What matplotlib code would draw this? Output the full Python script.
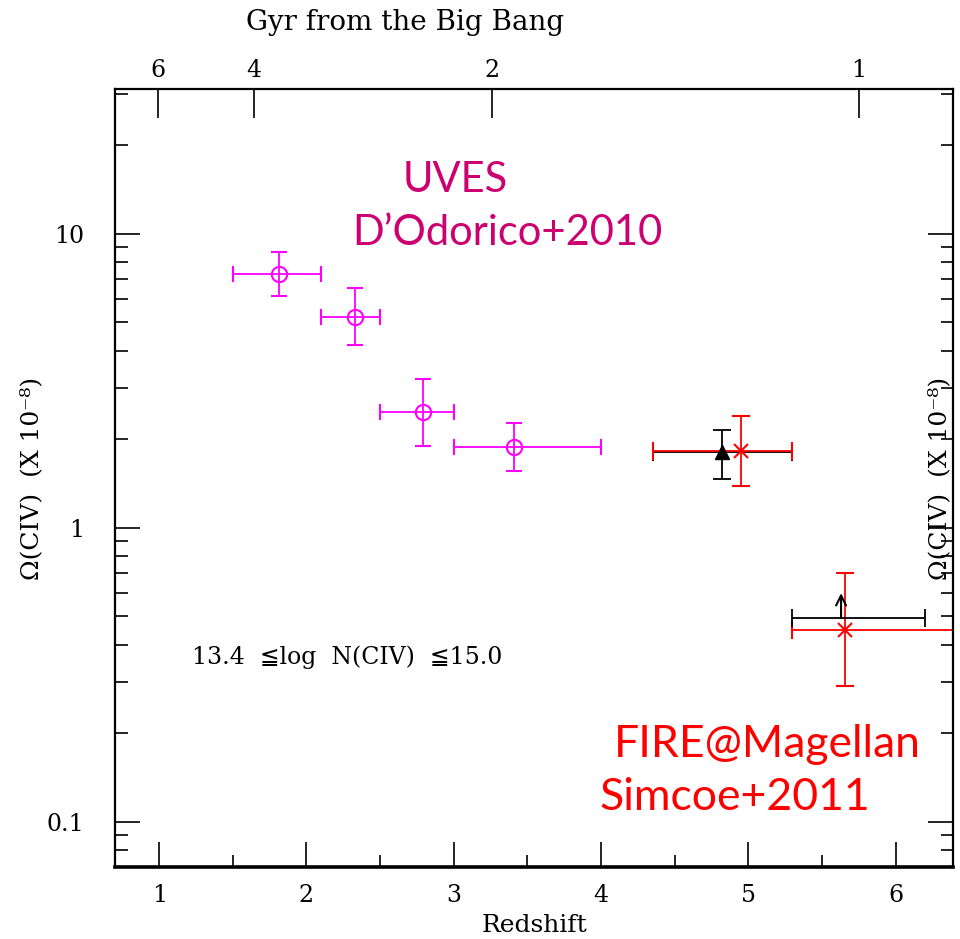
import matplotlib
matplotlib.use("Agg")
import matplotlib.pyplot as plt
from matplotlib.ticker import LogLocator, FixedLocator, NullFormatter, NullLocator

# ---------------- data ----------------
# UVES, D'Odorico+2010
uves_z = [1.815, 2.33, 2.79, 3.41]
uves_zlo = [1.50, 2.10, 2.50, 3.00]
uves_zhi = [2.10, 2.50, 3.00, 4.00]
uves_om = [7.3, 5.2, 2.48, 1.88]
uves_omlo = [6.15, 4.18, 1.90, 1.56]
uves_omhi = [8.7, 6.57, 3.22, 2.28]

# FIRE, Simcoe+2011 (red)
fire_z = [4.95, 5.66]
fire_zlo = [4.35, 5.30]
fire_zhi = [5.30, 6.60]
fire_om = [1.82, 0.45]
fire_omlo = [1.39, 0.29]
fire_omhi = [2.40, 0.70]

# black triangle point
tri_z, tri_zlo, tri_zhi = 4.82, 4.35, 5.30
tri_om, tri_omlo, tri_omhi = 1.81, 1.47, 2.16

# black lower limit
lim_z, lim_zlo, lim_zhi = 5.63, 5.30, 6.20
lim_om, lim_arrow_top = 0.494, 0.60

# top axis: age of the universe (Gyr) vs redshift
age_labels = ["6", "4", "2", "1"]
age_z = [0.99, 1.645, 3.26, 5.75]

serif = ["DejaVu Serif", "DejaVu Sans"]
sans = ["Lato", "DejaVu Sans"]
magenta = "#ff00ff"
pink = "#cc0070"

fig = plt.figure(figsize=(9.6, 9.39), dpi=100)
ax = fig.add_axes([0.1198, 0.0767, 0.8729, 0.8285])
ax.set_yscale("log")
ax.set_xlim(0.70, 6.39)
ax.set_ylim(0.0703, 31.1)

def err(v, lo, hi):
    return [[a - b for a, b in zip(v, lo)], [c - a for a, c in zip(v, hi)]]

ax.errorbar(uves_z, uves_om, xerr=err(uves_z, uves_zlo, uves_zhi),
            yerr=err(uves_om, uves_omlo, uves_omhi), fmt="o", ms=11,
            mfc="none", mec=magenta, mew=1.5, ecolor=magenta, elinewidth=1.3,
            capsize=6, capthick=1.3)

ax.errorbar([tri_z], [tri_om], xerr=[[tri_z - tri_zlo], [tri_zhi - tri_z]],
            yerr=[[tri_om - tri_omlo], [tri_omhi - tri_om]], fmt="^", ms=10,
            color="black", elinewidth=1.3, capsize=6.5, capthick=1.3)

ax.errorbar(fire_z, fire_om, xerr=err(fire_z, fire_zlo, fire_zhi),
            yerr=err(fire_om, fire_omlo, fire_omhi), fmt="x", ms=10, mew=1.5,
            color="red", elinewidth=1.3, capsize=6.5, capthick=1.3)

ax.errorbar([lim_z], [lim_om], xerr=[[lim_z - lim_zlo], [lim_zhi - lim_z]],
            fmt="none", ecolor="black", elinewidth=1.3, capsize=6.5, capthick=1.3)
ax.annotate("", xy=(lim_z, lim_arrow_top), xytext=(lim_z, lim_om),
            arrowprops=dict(arrowstyle="->", lw=1.5, color="black",
                            mutation_scale=18, shrinkA=0, shrinkB=0))

# axes styling
for s in ax.spines.values():
    s.set_linewidth(1.6)
ax.spines["bottom"].set_linewidth(2.6)

ax.xaxis.set_major_locator(FixedLocator([1, 2, 3, 4, 5, 6]))
ax.xaxis.set_minor_locator(FixedLocator([1.5, 2.5, 3.5, 4.5, 5.5]))
ax.yaxis.set_minor_locator(LogLocator(base=10, subs=range(2, 10), numticks=20))
ax.yaxis.set_minor_formatter(NullFormatter())
ax.set_yticks([0.1, 1, 10])
ax.set_yticklabels(["0.1", "1", "10"])
ax.tick_params(axis="both", which="major", direction="in", length=18, width=1.2,
               labelsize=17, right=True, top=False, pad=12)
ax.tick_params(axis="both", which="minor", direction="in", length=9, width=1.2,
               right=True, top=False)
ax.tick_params(axis="y", which="major", pad=22)
for lab in ax.get_xticklabels() + ax.get_yticklabels():
    lab.set_family(serif)

ax.set_xlabel("Redshift", family=serif, fontsize=18)
ax.xaxis.set_label_coords(0.501, -0.060)
ax.set_ylabel("Ω(CIV)  (X 10⁻⁸)", family=serif, fontsize=18)
ax.yaxis.set_label_coords(-0.086, 0.50)

top = ax.twiny()
top.set_xlim(ax.get_xlim())
top.xaxis.set_major_locator(FixedLocator(age_z))
top.xaxis.set_minor_locator(NullLocator())
top.set_xticklabels(age_labels, family=serif, fontsize=17)
top.tick_params(axis="x", direction="in", length=21, width=1.2, pad=5)
for s in top.spines.values():
    s.set_visible(False)
ax.text(0.346, 1.086, "Gyr from the Big Bang", transform=ax.transAxes,
        ha="center", va="center", family=serif, fontsize=20)

# annotations
ax.text(0.984, 0.50, "Ω(CIV)  (X 10⁻⁸)", transform=ax.transAxes, rotation=90,
        ha="center", va="center", family=serif, fontsize=18)
ax.text(0.277, 0.27, "13.4  ≦log  N(CIV)  ≦15.0", transform=ax.transAxes,
        ha="center", va="center", family=serif, fontsize=17)
ax.text(0.406, 0.883, "UVES", transform=ax.transAxes, ha="center", va="center",
        family=sans, fontsize=30, color=pink)
ax.text(0.468, 0.815, "D\u2019Odorico+2010", transform=ax.transAxes, ha="center",
        va="center", family=sans, fontsize=30, color=pink)
ax.text(0.778, 0.157, "FIRE@Magellan", transform=ax.transAxes, ha="center",
        va="center", family=sans, fontsize=32, color="red")
ax.text(0.740, 0.089, "Simcoe+2011", transform=ax.transAxes, ha="center",
        va="center", family=sans, fontsize=32, color="red")

fig.savefig("out.png", dpi=100)
